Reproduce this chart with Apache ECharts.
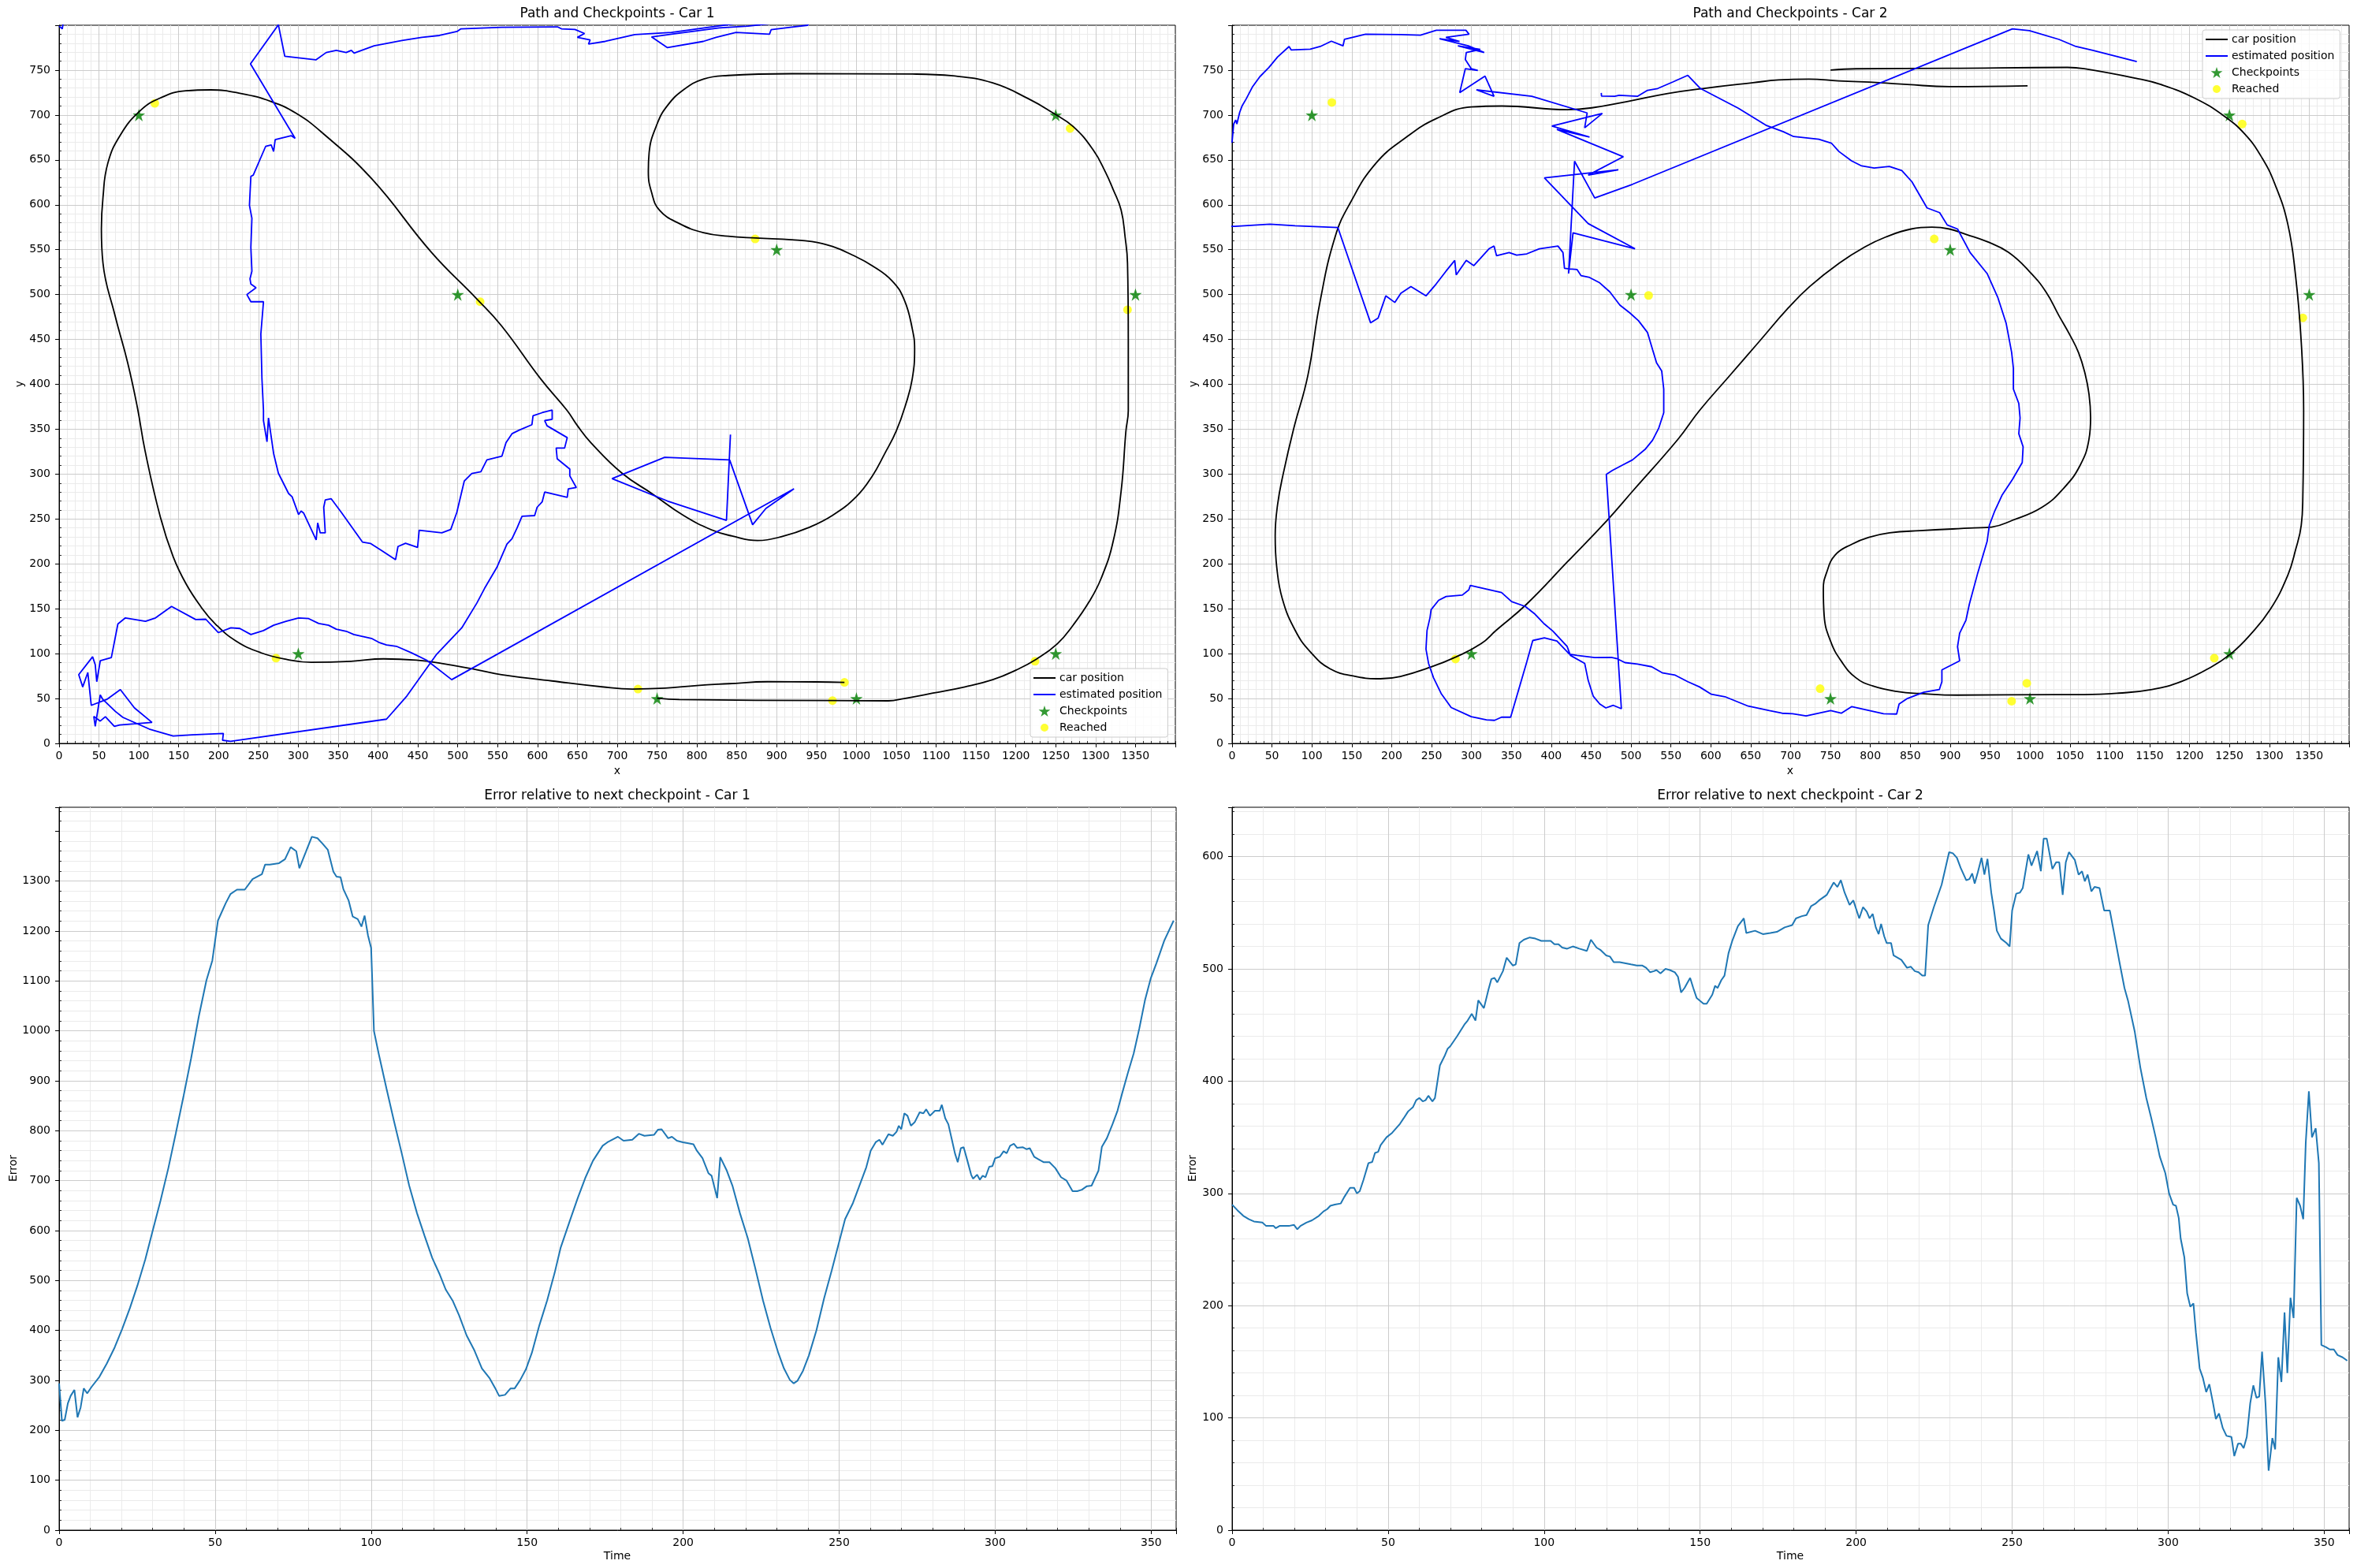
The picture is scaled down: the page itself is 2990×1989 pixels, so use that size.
<!DOCTYPE html>
<html>
<head>
<meta charset="utf-8">
<title>Path and Checkpoints</title>
<script src="https://cdn.jsdelivr.net/npm/echarts@6.0.0/dist/echarts.min.js"></script>
<style>
  html, body { margin: 0; padding: 0; background: #fff; }
  #chart { width: 2990px; height: 1989px; }
</style>
</head>
<body>
<div id="chart"></div>
<script>
// ---- data ----
const checkpoints = [[100,700],[500,500],[900,550],[1250,700],[1350,500],[300,100],[750,50],[1000,50],[1250,100]];

const car1Track = [[985,68],[950,68.5],[889,68.7],[840,66.5],[800,64.5],[760,61.5],[719,60.5],[681,63],[618,69.6],[555,76.6],[524,82],[480,89],[448,92.7],[407,94.2],[366,91.5],[316,90.4],[285,93.6],[253,101],[222,114],[196,133],[178,152],[159,178],[143,208],[127,252],[108,325],[98,375],[86,424],[70,477],[55,535],[53,573],[55,608],[61,646],[77,678],[102,705],[127,719],[159,727],[190,728],[228,724],[266,715],[297,702],[329,681],[392,629],[467,547],[524,495],[555,465],[604,406],[637,371],[650,354],[667,335],[706,301],[744,278],[783,254],[818,238],[844,231],[876,226],[909,231],[939,240],[970,254],[1000,275],[1020,298],[1035,322],[1050,348],[1062,378],[1070,406],[1073,439],[1070,462],[1060,494],[1045,515],[1020,532],[995,544],[970,553.5],[944,559],[919,561],[874,563],[839,565],[808,569],[778,579],[753,594],[743,614],[739,637],[740,658],[750,690],[763,710.5],[783,728],[808,740],[839,744],[919,746],[1070,745.6],[1121,743.6],[1171,735.7],[1216,718],[1247,702],[1272,687],[1297,661],[1312,637],[1322,617],[1332,594],[1337,564],[1340,535],[1341,450],[1341,371],[1338,348],[1332,281],[1322,225],[1307,184],[1292,158],[1272,132],[1252,111],[1226,94],[1201,82],[1171,71],[1136,63],[1096,56],[1060,50],[1040,47.4],[970,47.7],[778,48.8],[750,50.3]];

const car1Estimate = [[0,799],[4,796],[7,815],[470,845],[945,812],
  [939,800],[919,798],[893,795],[891,790],[849,792],[824,786.5],[808,782],[763,775],[743,787],[768,790],[828,797],[864,799],[895,802],[850,802],[768,792],[722,789.5],[685,782],[664,779],[666,783.6],[650,786.5],[659,790.8],[647,795.3],[630,796],[625,798.2],[555,797.7],[504,796],[499,793],[477,788.6],[455,786.5],[430,783],[395,777],[370,769],[366.5,772],[360,769.6],[347.6,772],[335,769.6],[322,761.4],[283,765.5],[275,800.5],[240,757],[296,674],
  [291,677],[271,672.5],[269,659.4],[266,666.7],[259,665],[243.5,633],[240.5,631.6],[238.7,599.4],[241.8,585],[240.5,552.6],[241.8,526],[239.4,517.5],[240.5,511.7],[247,507.6],[235.5,500],[240.5,492],[256.3,492],[253,456],[254.4,406],[256.3,371],[256.3,359.6],[260.7,336],[262.6,362.6],[269,323],[275,301],[287.8,278.4],[292.2,274.8],[300.3,255],[303.5,258.8],[306.6,256.7],[322.4,226.6],[324.3,245.6],[327.5,234.5],[333.8,234.5],[331.9,263],[333.8,271.3],[341.3,272.5],[354,257.3],[380.4,224.3],[390.4,222.8],[404.3,215],[422,204.7],[425,219.3],[434.5,223],[449.6,218.4],[451.6,237.4],[480,234.5],[491.2,238.3],[498.8,257.3],[508.2,292.4],[517.6,300.6],[529,302.6],[536.5,315.8],[555.4,320],[560.5,335],[568,345],[577,349],[593,355],[594.4,365],[605.8,368.4],[618.4,371.3],[618.4,361],[609,359.6],[612,353.8],[637.3,340.6],[634,329],[623.4,329],[624.7,317],[640.5,305.6],[640.5,298],[648.7,285],[638.6,283.6],[637.3,274],[609,280],[605.8,269],[599.5,263],[596.4,253.8],[580.6,253],[574.4,240],[568,228],[561.7,222],[549,196],[533.5,172.5],[524,156.4],[505,128.7],[473.6,99.4],[436,52.6],[410.6,27],[215,2.3],
  [205,3.5],[206,11],[167,9.6],[143,8.2],[113,16],[80,29],[70.5,35.7],[54.8,49],[51.6,54],[45.3,19],[43.5,30],[51.6,24.9],[58,29.8],[69.3,19],[76,20.5],[116.5,23.4],[94.5,39.5],[76.8,60],[59.8,49],[40.3,42.4],[36,79],[29.6,62.9],[24.6,76.6],[42,96.5],[45.3,87.7],[47.2,68.7],[51.6,92],[65.5,95.6],
  [73.7,133],[83.1,139.8],[108.3,136],[120.9,139.8],[141,152.6],[171.3,138],[184,138.3],[199.6,123.4],[215.4,128.7],[226.7,128],[240.5,121.3],[256.3,125.7],[269,131.6],[284.6,136],[300.4,139.8],[313,139],[325.6,133.6],[338,131.6],[347.6,127.2],[360.2,124.9],[369.6,121.3],[391.7,117],[401,112.6],[410.6,109.6],[423,108.2],[442,100.9],[461,92.7],[492.4,71],
  [921.7,283.6],[886.4,261.7],[869.8,243.6],[841,315.8],[759.5,318.7],[693.5,295],[763,270],[837,248.5],[842,344]];

const car1Reached = [[120,713],[528,492],[873,562],[1268,685],[1340,483],[272,95],[726,60.5],[985,68],[970,47.7],[1224,91.5]];

const car2Track = [[750,750],[782,751.5],[899,752],[1047,753],[1068,751.5],[1132,741],[1164,734],[1206,719],[1243,699],[1270,678],[1291,652],[1307,623],[1323,579],[1333,520],[1340,447],[1343,371],[1342,275],[1340,243],[1333,216],[1323,187],[1301,149],[1275,120],[1252,100],[1227,85],[1190,69],[1153,60],[1111,56],[1068,54.4],[1031,54.4],[909,53.8],[862,55.6],[835,57.6],[803,64],[782,73],[764,91],[750,114],[742,143],[741,172],[745,190],[756,210],[777,222],[798,229.5],[824,234.5],[862,237],[930,240],[952,241],[978,248.5],[1015,263],[1042,284],[1063,310],[1074,339],[1076,363],[1074,389],[1069,412],[1061,435],[1050,455],[1036,477],[1020,503],[999,526],[973,547],[946,559],[920,567],[899,573],[877,575],[851,573],[819,564],[793,553],[761,535],[724,509],[697,485],[660,447],[623,409],[586,371],[559,339],[502,281],[470,248.5],[420,202],[369,155],[331,126],[312,111],[281,96.5],[249,85],[211,74.6],[186,72],[155,74.6],[123,83],[98,102],[79,126],[63,161],[56,196],[54,231],[57,266],[64,300],[77,350],[95,410],[110,491],[129,564],[148,602],[180,646],[218,675],[256,696],[300,709],[338,710],[420,706],[451,708],[495,715],[546,724],[590,729.5],[653,736],[685,739],[723,740],[760,738],[811,736],[846,734],[899,731.6],[997,732.5]];

const car2Estimate = [[462.7,724.6],[463,721],[479.7,720.8],[485,722],[508,720.8],[520.7,727.5],[533.4,729.5],[552.3,736.8],[571.2,744.2],[587,729.5],[634.4,707.6],[669,688.6],[691,681.3],[703.8,676],[735.3,673],[751.1,668.7],[760.5,659.4],[776.3,649],[789,643.3],[804.7,641],[823.7,642.7],[839.4,638],[852,625.7],[871,596.5],[886.8,591.2],[896.3,577.5],[909.2,573],[925,546.8],[946.3,523.4],[959.6,497],[970.2,467.8],[977,435.7],[979.2,418],[979.2,394.7],[986,378.7],[987.6,362.6],[986,345],[991.4,330.4],[990.3,312.9],[978,293.9],[964.9,276.3],[955.8,258.8],[949,242.7],[946.3,225],[934.6,190],[924,155],[919.8,137.4],[911.9,122.8],[909.2,107.6],[911.9,92],[889.6,81.9],[889.6,68.7],[886.4,60],[866.8,57],[845.6,49.7],[836,43.9],[832.9,32.7],[816.5,33],[776.7,41],[763.5,33.6],[750.2,36.5],[719.5,30.7],[702.5,33],[689.3,33.6],[673.4,36.5],[646.9,41.5],[617.7,52],[600.7,54.7],[585.9,62.9],[571.2,68.7],[555.4,76],[539.7,78.4],[525.8,85.4],[508.1,88.3],[492.3,90],[482.9,94.2],[475.3,95.9],[454.5,95.6],[432.4,98],[422.9,99.4],[407.1,114],[391.4,117.5],[376.8,114.6],[369.3,90.6],[349.1,29.2],[337.7,29.2],[328.9,25.7],[318.8,26.3],[299.8,29.8],[274.6,40],[262,55.6],[252.5,73],[246.2,89.2],[243,105],[244.3,125.7],[248.1,140.4],[249.4,149],[258.8,159.4],[268.3,163.7],[288.5,165.2],[296.7,171],[298.6,176],[337.7,168],[350.3,158],[367.4,152.6],[378.7,144.7],[391.4,133],[402.1,125],[419.8,108.2],[424,98],[441.9,89.2],[446.3,70.2],[452.6,52.6],[460.8,43.9],[468.4,39.5],[477.8,42.4],[487.9,38.6],[469,299.7],[476.6,304],[489.2,310],[501.8,315.8],[517.6,327.5],[527,337.7],[534.6,350.9],[541,368.4],[541,394.7],[538.4,415],[532,424],[527,438.6],[520.7,457.6],[509.4,470.8],[498.6,479.5],[486,488.3],[473.4,503],[460.8,513],[448,519],[437.4,521],[432.4,527.8],[423,528.6],[416.6,529.2],[414.7,546.8],[408.4,554],[385,551],[369.3,545.3],[356.6,543.9],[347.2,546.8],[331.4,543.3],[328.3,554],[322,551],[303,532.2],[293.5,538],[280.9,521.9],[279,538],[268.3,526.3],[255.7,511.7],[243,498.5],[224.1,508.8],[211.5,501.5],[203.9,491.2],[192.6,498.5],[183,473.7],[173.6,468.4],[132.6,574.6],[79,576.6],[47.4,578.4],[3.2,576],[-8,576],[-8,668],[0,670],[2,690],[4.5,694.4],[6,690],[9.5,703],[12.7,710.5],[17.7,718],[25.3,731],[34.8,742.7],[46.1,752.9],[56.9,764.6],[71.4,776.3],[74,772.5],[97.9,773.4],[110.5,776.3],[124.4,782.2],[139,777],[140.8,784.2],[167.3,790],[211.5,789.5],[236,789],[256,794.4],[293,794.4],[297,790],[268,786.5],[285,782],[260,785],[296,777],[316,769.6],[283,777],[311,773],[293.5,769.6],[292.3,761.7],[299.8,751.5],[308,749.7],[292.3,751.5],[285.3,725],[317,743.3],[328.3,720.8],[306.2,728],[375.6,720.8],[445,702.3],[441.9,685.7],[464,701.8],[400.8,687.7],[448,675.4],[407,684],[490.4,653.5],[446.3,633],[484.1,639],[391.4,630],[446.3,579],[505,551],[427.3,568.7],[421.7,523.4],[429.2,648.5],[454.5,607.6],[501.8,622.8],[978,795.9],[999.3,793.9],[1036.4,784.2],[1057.6,776.3],[1078.8,772],[1133.9,759.6]];

const car2Reached = [[125,714],[522,499],[880,562],[1266,690],[1342,474],[280,94],[737,61],[977,47],[996,67],[1231,95]];

// error vs time, [time, error]
const car1Error = [[0,294],[0.9,219],[1.8,221],[2.8,254],[3.7,269],[4.9,281],[5.9,226],[6.9,246],[7.9,284],[9,274],[10.4,287],[12.9,307],[15.3,334],[17.8,366],[20.2,403],[22.7,445],[25.1,490],[27.6,542],[30,600],[32.5,660],[35,725],[37.4,795],[39.9,870],[42.3,945],[44.8,1030],[47.2,1101],[49.1,1141],[50.9,1221],[53.4,1256],[54.9,1274],[57,1283],[59.5,1283],[62,1304],[65,1314],[66,1333],[67.5,1333],[70.5,1336],[72.4,1344],[74.2,1368],[76,1360],[77,1326],[79.1,1359],[81,1389],[82.8,1386],[84.3,1376],[86.1,1363],[87.9,1319],[88.9,1309],[90.2,1308],[91.1,1284],[92.8,1261],[94.1,1229],[95.7,1224],[96.9,1209],[97.9,1231],[99,1191],[100,1166],[100.9,1000],[102.4,955],[104.9,885],[107.3,820],[109.8,755],[112.2,690],[114.7,635],[117.1,590],[119.6,545],[122,512],[123.9,482],[126.1,460],[128.2,430],[130.6,390],[133.1,360],[135.5,324],[138,304],[139.8,284],[141,269],[142.9,271],[144.7,284],[146,284],[147.8,301],[149.6,322],[151.5,355],[153.9,410],[156.4,460],[158.8,515],[160.7,565],[163.7,620],[166.2,665],[168.6,705],[171.1,740],[174.2,770],[176,778],[179.1,788],[180.9,780],[183.7,782],[185.8,794],[187.6,790],[190.7,792],[191.9,802],[193.1,803],[195.2,785],[196.4,788],[198,780],[199.9,777],[201.7,775],[203.3,773],[204.4,760],[206.2,745],[208.1,715],[209.1,710],[210.9,665],[211.9,747],[214,720],[215.8,690],[218.2,635],[220.7,585],[223.1,525],[225.6,460],[228,405],[230.5,355],[232.3,324],[234.2,301],[235.4,294],[236.6,299],[238.4,319],[240.3,350],[242.7,400],[245.2,465],[247.6,520],[250.1,580],[251.9,623],[254.4,655],[256.2,685],[258.7,727],[260.1,760],[261.7,777],[262.9,782],[263.9,772],[265.8,793],[267.2,790],[268.4,798],[269.1,810],[269.9,803],[270.9,835],[271.9,830],[273,810],[274.2,817],[275.8,837],[277,835],[277.9,843],[279.1,830],[280.7,840],[282.2,840],[282.9,852],[284,825],[285,813],[286.2,780],[287.1,755],[288,737],[289,765],[289.9,767],[291.1,740],[292.3,712],[292.9,704],[294.2,712],[295.1,702],[296,710],[296.9,707],[298.1,728],[299.1,729],[300,745],[301.5,748],[302.7,759],[303.7,755],[304.8,770],[306,774],[307,766],[308.9,767],[310.1,763],[311.1,765],[312.5,748],[313.8,743],[315.6,737],[317.4,737],[319.3,725],[321.1,707],[322.9,700],[324.8,679],[326.3,679],[327.8,682],[329.4,689],[330.9,690],[333.1,720],[334.2,768],[335.8,785],[337.6,813],[339.2,840],[340.7,875],[342.5,915],[344.4,955],[346.2,1005],[348,1061],[349.9,1106],[351.7,1136],[354.2,1181],[357.2,1221]];

const car2Error = [[0,290],[1.7,285],[3.6,280],[5.4,277],[7,275],[9.7,274],[10.9,271],[13.3,271],[14,269],[15.2,271],[18.2,271],[19.8,272],[20.9,268],[21.9,271],[23.8,274],[25.6,276],[27.8,280],[29.3,284],[30.5,286],[31.5,289],[32.9,290],[34.8,291],[36,297],[37.8,305],[39.1,305],[40,300],[40.9,302],[42.1,312],[43.7,327],[44.9,328],[45.8,336],[46.8,337],[47.6,343],[49.5,350],[51.3,354],[53.8,362],[55,367],[56.4,373],[58,377],[59,383],[60,385],[61.1,382],[62,383],[62.9,387],[64.2,382],[65,385],[66.6,414],[68.2,423],[69.1,429],[69.9,431],[72.1,440],[74.6,451],[75.5,454],[76.8,460],[78,454],[78.9,472],[80.7,465],[82.2,482],[83.1,491],[84.1,492],[85,488],[86.8,498],[88,510],[90,503],[90.9,504],[92.1,523],[93.5,526],[95.4,528],[97.2,527],[99.1,525],[102.1,525],[103.3,522],[104.6,522],[105.8,519],[107.4,518],[109.2,520],[111.3,518],[113.7,516],[115,526],[116.8,519],[118,517],[119.9,512],[121.1,511],[122.3,506],[124.2,506],[127.8,504],[129.7,503],[131.5,503],[132.7,501],[134,497],[135.2,498],[136,499],[137.3,496],[138.9,500],[140.3,499],[141.9,497],[142.9,493],[143.9,479],[145,483],[145.8,487],[146.8,492],[147.8,483],[148.9,474],[151.1,469],[152.1,469],[153.9,477],[154.8,485],[155.6,483],[156.8,490],[157.8,494],[159.1,514],[160.3,525],[162.1,538],[164,545],[164.8,532],[167.6,534],[170.1,531],[172.5,532],[174.6,533],[177.1,537],[179.5,539],[180.7,545],[182.6,547],[184.1,548],[185.6,556],[186.9,558],[188.1,561],[190.6,566],[192.8,577],[194,573],[195.1,579],[196.3,568],[197.9,557],[199.1,561],[201,545],[202.2,555],[203.4,551],[204.3,545],[205.3,549],[206.3,537],[207.2,531],[208,540],[209,529],[209.8,523],[211.2,523],[212,512],[214.5,508],[216.3,501],[217.5,502],[218.8,498],[220,497],[221.2,494],[222.1,494],[223.1,539],[224.9,555],[227.4,575],[229.8,604],[231,603],[232.3,599],[233.5,590],[235.3,579],[236.3,580],[237.2,585],[238,576],[239,586],[240.2,599],[241.1,584],[242.1,598],[243.3,568],[244.2,552],[245.1,534],[246.4,527],[248.2,523],[249.2,520],[250,552],[251.3,567],[252.5,568],[253.4,572],[255.2,602],[256.2,592],[258,605],[259.2,587],[260.1,616],[261.1,616],[262.9,589],[264.1,595],[265.1,595],[266.2,566],[267.2,595],[268.2,604],[270.1,597],[271.3,584],[272.4,587],[273.3,578],[274.2,584],[275.4,569],[276.4,573],[278,572],[279.5,552],[281.3,552],[282.8,530],[284.4,506],[286,483],[287.2,471],[289.3,444],[291.1,412],[293,385],[294.6,367],[296,350],[297.3,333],[299.1,318],[300.3,300],[301.6,290],[302.5,289],[303.4,278],[304,260],[305.2,243],[306.1,211],[307.1,199],[308.1,202],[308.9,176],[310.1,144],[311.1,136],[312.2,123],[313.2,130],[314.4,113],[315.3,99],[316.3,104],[317.5,91],[318.7,84],[320.3,83],[321.2,66],[322.4,77],[323.3,77],[324.2,73],[325.2,83],[326.3,113],[327.3,129],[328.3,118],[329.2,119],[330.1,159],[331.2,113],[332.2,53],[333.4,82],[334.3,72],[335.3,154],[336.3,132],[337.3,194],[338.2,140],[339.2,207],[340.2,189],[341.2,296],[342.3,289],[343.3,277],[344.1,345],[345.1,391],[346.1,350],[347.3,358],[348.3,327],[349.1,165],[350.6,163],[351.8,161],[353.1,161],[354.3,156],[355.9,154],[357.4,151]];

// axis extents and tick steps
const pathXMax = 1400, pathYMax = 800, pathStep = 50, pathMinor = 10;
const timeMax = 358, timeStep = 50, timeMinor = 10;
const err1Max = 1448, err2Max = 644, errStep = 100, errMinor = 20;

// ---- styling ----
const FONT = 'DejaVu Sans';
const MAJOR = '#cccccc';
const MINOR = '#ebebeb';
const STAR = 'path://M50,0L61.2,34.5L97.6,34.5L68.2,55.9L79.4,90.5L50,69.1L20.6,90.5L31.8,55.9L2.4,34.5L38.8,34.5Z';
const LINE_ICON = 'path://M0,0L0,0M0,6L28,6L28,8L0,8ZM28,14L28,14';
const DOT_ICON = 'path://M0,0L0,0M2,7A5,5 0 1 1 12,7A5,5 0 1 1 2,7ZM14,14L14,14';

const grids = [
  { left: 75, top: 32, width: 1416, height: 911 },
  { left: 1563, top: 32, width: 1417, height: 911 },
  { left: 75, top: 1024, width: 1417, height: 917 },
  { left: 1563, top: 1024, width: 1417, height: 917 }
].map(g => ({ ...g, show: true, borderColor: '#000', borderWidth: 1, backgroundColor: 'transparent' }));

function majorAxis(gridIndex, max, step, lastLabel, margin, splitColor) {
  return {
    type: 'value', gridIndex, min: 0, max, interval: step, z: 1,
    axisLine: { show: true, onZero: false, lineStyle: { color: '#000', width: 1 } },
    axisTick: { show: true, length: 5, lineStyle: { color: '#000', width: 1 } },
    axisLabel: {
      color: '#000', fontSize: 14, fontFamily: FONT, margin,
      formatter: v => (v % step === 0 && v <= lastLabel) ? String(v) : ''
    },
    splitLine: { show: true, showMinLine: false, showMaxLine: false, lineStyle: { color: splitColor || MAJOR, width: 1 } }
  };
}

function minorAxis(gridIndex, max, step) {
  return {
    type: 'value', gridIndex, min: 0, max, interval: step, z: 0,
    axisLine: { show: false },
    axisTick: { show: true, length: 3, lineStyle: { color: '#000', width: 0.8 } },
    axisLabel: { show: false },
    splitLine: { show: true, showMinLine: false, showMaxLine: false, lineStyle: { color: MINOR, width: 1 } }
  };
}

// the 1400 line in the first error panel is only a minor line in the original
const err1SplitColors = [];
for (let v = errStep; v < err1Max; v += errStep) err1SplitColors.push(v <= 1300 ? MAJOR : MINOR);

const xAxes = [
  majorAxis(0, pathXMax, pathStep, 1350, 9),
  majorAxis(1, pathXMax, pathStep, 1350, 9),
  majorAxis(2, timeMax, timeStep, 350, 9),
  majorAxis(3, timeMax, timeStep, 350, 9),
  minorAxis(0, pathXMax, pathMinor),
  minorAxis(1, pathXMax, pathMinor),
  minorAxis(2, timeMax, timeMinor),
  minorAxis(3, timeMax, timeMinor)
];
const yAxes = [
  majorAxis(0, pathYMax, pathStep, 750, 11),
  majorAxis(1, pathYMax, pathStep, 750, 11),
  majorAxis(2, err1Max, errStep, 1300, 11, err1SplitColors),
  majorAxis(3, err2Max, errStep, 600, 11),
  minorAxis(0, pathYMax, pathMinor),
  minorAxis(1, pathYMax, pathMinor),
  minorAxis(2, err1Max, errMinor),
  minorAxis(3, err2Max, errMinor)
];

function pathSeries(idx, track, estimate, reached) {
  return [
    // the true track is a smooth curve
    { name: 'car position', type: 'line', xAxisIndex: idx, yAxisIndex: idx, data: track,
      symbol: 'none', smooth: 0.45, lineStyle: { color: '#000000', width: 1.8 }, itemStyle: { color: '#000000' } },
    { name: 'estimated position', type: 'line', xAxisIndex: idx, yAxisIndex: idx, data: estimate,
      symbol: 'none', lineStyle: { color: '#0000ff', width: 1.8 }, itemStyle: { color: '#0000ff' } },
    { name: 'Checkpoints', type: 'scatter', xAxisIndex: idx, yAxisIndex: idx, data: checkpoints,
      symbol: STAR, symbolSize: 16, itemStyle: { color: '#008000' } },
    { name: 'Reached', type: 'scatter', xAxisIndex: idx, yAxisIndex: idx, data: reached,
      symbol: 'circle', symbolSize: 11, itemStyle: { color: '#ffff00' } }
  ];
}

function errorSeries(idx, data) {
  return { name: 'error' + idx, type: 'line', xAxisIndex: idx, yAxisIndex: idx, data,
    symbol: 'none', lineStyle: { color: '#1f77b4', width: 2 } };
}

function legendAt(left, top) {
  return {
    left, top, orient: 'vertical', itemWidth: 28, itemHeight: 14, itemGap: 7,
    padding: [5, 7, 5, 4], backgroundColor: 'rgba(255,255,255,0.8)',
    borderColor: '#cccccc', borderWidth: 1, borderRadius: 3,
    textStyle: { color: '#000', fontSize: 14, fontFamily: FONT },
    data: [
      { name: 'car position', icon: LINE_ICON },
      { name: 'estimated position', icon: LINE_ICON },
      { name: 'Checkpoints', icon: STAR },
      { name: 'Reached', icon: DOT_ICON }
    ]
  };
}

function label(text, x, y, size, rotate) {
  return {
    type: 'text', x, y, rotation: rotate ? Math.PI / 2 : 0, z: 10,
    style: { text, fill: '#000', fontSize: size, fontFamily: FONT,
      align: 'center', verticalAlign: 'middle', textAlign: 'center', textVerticalAlign: 'middle' }
  };
}

const chart = echarts.init(document.getElementById('chart'), null, { renderer: 'canvas', width: 2990, height: 1989 });
chart.setOption({
  animation: false,
  backgroundColor: '#ffffff',
  grid: grids,
  xAxis: xAxes,
  yAxis: yAxes,
  legend: [legendAt(1307, 848), legendAt(2794, 38)],
  graphic: [
    label('Path and Checkpoints - Car 1', 783, 18, 17),
    label('Path and Checkpoints - Car 2', 2271, 18, 17),
    label('Error relative to next checkpoint - Car 1', 783, 1010, 17),
    label('Error relative to next checkpoint - Car 2', 2271, 1010, 17),
    label('x', 783, 978, 14),
    label('x', 2271, 978, 14),
    label('y', 25, 487, 14, true),
    label('y', 1514, 487, 14, true),
    label('Time', 783, 1974, 14),
    label('Time', 2271, 1974, 14),
    label('Error', 17, 1482, 14, true),
    label('Error', 1513, 1482, 14, true)
  ],
  series: [
    ...pathSeries(0, car1Track, car1Estimate, car1Reached),
    ...pathSeries(1, car2Track, car2Estimate, car2Reached),
    errorSeries(2, car1Error),
    errorSeries(3, car2Error)
  ]
});
</script>
</body>
</html>
